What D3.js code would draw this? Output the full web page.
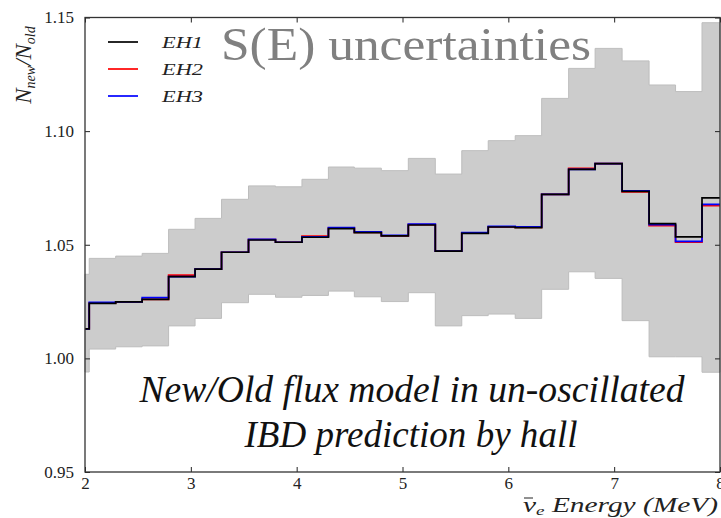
<!DOCTYPE html>
<html>
<head>
<meta charset="utf-8">
<script src="https://cdn.jsdelivr.net/npm/d3@7"></script>
<style>
  body { margin: 0; background: #fff; }
  svg text { font-family: "Liberation Serif", "DejaVu Serif", serif; }
</style>
</head>
<body>
<div class="chart"></div>
<script>
const width = 721, height = 518;
const m = { top: 17.5, right: 1, bottom: 46, left: 85 };

// lower bin edges (MeV), last bin runs to 8
const binLo = [2.0, 2.04, 2.29, 2.54, 2.79, 3.04, 3.29, 3.545, 3.80, 4.05, 4.30, 4.545, 4.80,
  5.055, 5.31, 5.56, 5.81, 6.065, 6.315, 6.57, 6.82, 7.075, 7.33, 7.58, 7.83];
const eMax = 8.0;

const eh1 = [1.013, 1.0242, 1.0249, 1.026, 1.036, 1.0393, 1.0467, 1.0521, 1.0511, 1.0533, 1.0571, 1.0553, 1.0539,
  1.0587, 1.0472, 1.055, 1.0578, 1.0575, 1.0722, 1.0832, 1.0857, 1.0735, 1.0593, 1.0535, 1.0706];
const eh2 = [1.013, 1.0243, 1.0249, 1.026, 1.0366, 1.0393, 1.0467, 1.0523, 1.0511, 1.0538, 1.0573, 1.0554, 1.0539,
  1.0589, 1.0472, 1.0551, 1.0579, 1.0576, 1.0722, 1.0836, 1.0857, 1.0733, 1.0584, 1.0511, 1.0672];
const eh3 = [1.013, 1.0246, 1.0249, 1.0267, 1.036, 1.0393, 1.0467, 1.0524, 1.0511, 1.0535, 1.0576, 1.0557, 1.0541,
  1.0591, 1.0472, 1.0553, 1.0581, 1.0579, 1.0722, 1.0832, 1.0857, 1.0737, 1.0588, 1.0515, 1.0678];

const bandHi = [1.037, 1.044, 1.045, 1.0462, 1.0568, 1.0616, 1.07, 1.0759, 1.0755, 1.0788, 1.0842, 1.0837, 1.0826,
  1.088, 1.0811, 1.0914, 1.0958, 1.098, 1.1144, 1.1276, 1.1364, 1.1309, 1.1203, 1.1174, 1.1477];
const bandLo = [0.994, 1.0041, 1.0051, 1.0055, 1.0143, 1.0176, 1.0245, 1.0282, 1.0269, 1.0277, 1.0296, 1.0271, 1.025,
  1.0289, 1.0143, 1.0188, 1.0195, 1.0176, 1.0304, 1.0381, 1.0352, 1.0166, 1.0007, 1.0007, 0.9939];

const xTicks = [2, 3, 4, 5, 6, 7, 8];
const yTicks = [0.95, 1.00, 1.05, 1.10, 1.15];
const yTickLabels = ["0.95", "1.00", "1.05", "1.10", "1.15"];

const halls = [
  { name: "EH", num: "1", values: eh1, color: "#000000" },
  { name: "EH", num: "2", values: eh2, color: "#ff0000" },
  { name: "EH", num: "3", values: eh3, color: "#0000ff" }
];

const svg = d3.select(".chart").append("svg")
  .attr("width", width)
  .attr("height", height);

const x = d3.scaleLinear().domain([2, 8]).range([m.left, width - m.right]);
const y = d3.scaleLinear().domain([0.95, 1.15]).range([height - m.bottom, m.top]);

// step points, repeating the last value at the upper edge
function steps(vals) {
  const pts = binLo.map((e, i) => [e, vals[i]]);
  pts.push([eMax, vals[vals.length - 1]]);
  return pts;
}

const bandPts = binLo.map((e, i) => [e, bandLo[i], bandHi[i]]);
bandPts.push([eMax, bandLo[bandLo.length - 1], bandHi[bandHi.length - 1]]);

svg.append("path")
  .datum(bandPts)
  .attr("fill", "#cccccc")
  .attr("stroke", "#bdbdbd")
  .attr("stroke-width", 1)
  .attr("d", d3.area().curve(d3.curveStepAfter)
    .x(d => x(d[0])).y0(d => y(d[1])).y1(d => y(d[2])));

const line = d3.line().curve(d3.curveStepAfter).x(d => x(d[0])).y(d => y(d[1]));

// red and blue first, black on top
[halls[1], halls[2], halls[0]].forEach(h => {
  svg.append("path")
    .datum(steps(h.values))
    .attr("fill", "none")
    .attr("stroke", h.color)
    .attr("stroke-width", 1.7)
    .attr("d", line);
});

// axes, ticks pointing inward on all four sides
const ax = svg.append("g").attr("class", "axes");
ax.append("g").attr("transform", `translate(0,${height - m.bottom})`)
  .call(d3.axisBottom(x).tickValues(xTicks).tickFormat(d3.format("d")).tickSizeInner(-5).tickSizeOuter(0).tickPadding(5));
ax.append("g").attr("transform", `translate(0,${m.top})`)
  .call(d3.axisTop(x).tickValues(xTicks).tickFormat("").tickSizeInner(-5).tickSizeOuter(0));
ax.append("g").attr("transform", `translate(${m.left},0)`)
  .call(d3.axisLeft(y).tickValues(yTicks).tickFormat((d, i) => yTickLabels[i]).tickSizeInner(-5).tickSizeOuter(0).tickPadding(11));
ax.append("g").attr("transform", `translate(${width - m.right},0)`)
  .call(d3.axisRight(y).tickValues(yTicks).tickFormat("").tickSizeInner(-5).tickSizeOuter(0));

ax.selectAll(".domain").remove();
ax.selectAll("g").attr("font-family", null);
ax.selectAll(".tick line").attr("stroke", "#222");
ax.selectAll(".tick text").attr("fill", "#222")
  .style("font-family", "'Liberation Serif', serif").style("font-size", "17px");

svg.append("rect")
  .attr("x", m.left).attr("y", m.top)
  .attr("width", width - m.right - m.left)
  .attr("height", height - m.bottom - m.top)
  .attr("fill", "none")
  .attr("stroke", "#333")
  .attr("stroke-width", 1.3);

// legend
const leg = svg.append("g").attr("transform", "translate(108,42)");
halls.forEach((h, i) => {
  const g = leg.append("g").attr("transform", `translate(0,${i * 27})`);
  g.append("line").attr("x1", 0).attr("x2", 30).attr("y1", 0).attr("y2", 0)
    .attr("stroke", h.color).attr("stroke-width", 1.7);
  g.append("text").attr("x", 54).attr("y", 6)
    .attr("font-style", "italic").attr("font-size", 17).attr("fill", "#222")
    .attr("textLength", 41).attr("lengthAdjust", "spacingAndGlyphs")
    .text(h.name + h.num);
});

// big grey title
svg.append("text")
  .attr("x", 221).attr("y", 60)
  .attr("font-size", 47).attr("fill", "#808080")
  .attr("textLength", 370).attr("lengthAdjust", "spacingAndGlyphs")
  .text("S(E) uncertainties");

// annotation
const note = svg.append("text")
  .attr("font-style", "italic").attr("font-size", 38).attr("fill", "#111")
  .attr("text-anchor", "middle");
note.append("tspan").attr("x", 412).attr("y", 402)
  .attr("textLength", 545).attr("lengthAdjust", "spacingAndGlyphs")
  .text("New/Old flux model in un-oscillated");
note.append("tspan").attr("x", 411).attr("y", 447)
  .attr("textLength", 333).attr("lengthAdjust", "spacingAndGlyphs")
  .text("IBD prediction by hall");

// y label N_new / N_old
const ylab = svg.append("text")
  .attr("transform", "translate(31,65) rotate(-90)")
  .attr("text-anchor", "middle")
  .attr("font-style", "italic").attr("font-size", 23).attr("fill", "#222");
ylab.append("tspan").text("N");
ylab.append("tspan").attr("font-size", 14).attr("dy", 4).text("new");
ylab.append("tspan").attr("dy", -4).text("/N");
ylab.append("tspan").attr("font-size", 14).attr("dy", 4).text("old");

// x label
const xlab = svg.append("text")
  .attr("x", 523).attr("y", 512)
  .attr("font-style", "italic").attr("font-size", 20).attr("fill", "#222")
  .attr("textLength", 195).attr("lengthAdjust", "spacingAndGlyphs");
xlab.append("tspan").text("\u03BD");
xlab.append("tspan").attr("font-size", 13).attr("dy", 3).text("e");
xlab.append("tspan").attr("dy", -3).text(" Energy (MeV)");
// bar over the nu
svg.append("line")
  .attr("x1", 524).attr("x2", 533).attr("y1", 498).attr("y2", 498)
  .attr("stroke", "#222").attr("stroke-width", 1);
</script>
</body>
</html>
